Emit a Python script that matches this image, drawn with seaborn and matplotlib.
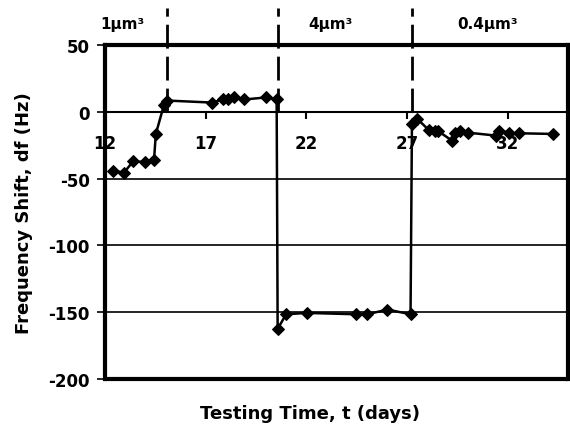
import matplotlib
matplotlib.use('Agg')
import matplotlib.pyplot as plt
import seaborn as sns

# Data
days = [12.40, 12.95, 13.40, 13.98, 14.44, 14.53, 14.94, 15.09, 17.30, 17.88,
        18.12, 18.41, 18.92, 19.99, 20.53, 20.58, 21.00, 22.02, 24.46, 25.04,
        26.03, 27.18, 27.25, 27.50, 28.08, 28.41, 28.56, 29.24, 29.40, 29.65,
        30.01, 31.40, 31.56, 32.06, 32.55, 34.26]
shift = [-44, -45.5, -37, -37.5, -36, -16.5, 5.5, 8.5, 7, 9.3,
         9.3, 10.8, 9.3, 10.8, 9.5, -162.5, -151.5, -150.5, -151.5, -151.5,
         -148, -151.5, -9, -5, -13.5, -14.5, -14.5, -21.5, -15.5, -14.5,
         -15.5, -17.7, -14, -15.5, -16, -16.5]

change_days = [15.1, 20.6, 27.25]
sizes = ['1\u00b5m\u00b3', '4\u00b5m\u00b3', '0.4\u00b5m\u00b3']
size_label_x = [12.85, 23.2, 31.0]
x_ticks = [12, 17, 22, 27, 32]
y_ticks = [50, 0, -50, -100, -150, -200]

sns.set_style('white')
plt.rcParams['font.family'] = ['DejaVu Sans']
plt.rcParams['font.weight'] = 'bold'
plt.rcParams['axes.unicode_minus'] = False
for key in ['text.color', 'axes.labelcolor', 'xtick.color', 'ytick.color']:
    plt.rcParams[key] = 'black'

fig = plt.figure(figsize=(5.7, 4.27), dpi=100)
ax = fig.add_axes([0.184, 0.110, 0.8125, 0.782])

# horizontal grid
ax.set_yticks(y_ticks)
ax.yaxis.grid(True, color='k', lw=1.2)
ax.set_axisbelow(True)

# data line
sns.lineplot(x=days, y=shift, color='k', lw=1.8, marker='D', markersize=6.5,
             markeredgecolor='k', sort=False, estimator=None, ax=ax, zorder=3)

# dashed markers where particle size changes
for d in change_days:
    ax.axvline(d, ymin=0.8, ymax=1.112, color='k', lw=2,
               linestyle=(0, (8.6, 2.9)), clip_on=False)

for x, s in zip(size_label_x, sizes):
    ax.text(x, 66, s, ha='center', va='center', fontsize=11,
            fontweight='bold', clip_on=False)

ax.set_xlim(12, 35)
ax.set_ylim(-200, 50)
ax.set_xticks(x_ticks)

# frame: bottom spine becomes the x axis at y=0
for side in ['left', 'top', 'right']:
    ax.spines[side].set_linewidth(3)
    ax.spines[side].set_color('k')
ax.spines['bottom'].set_position(('data', 0))
ax.spines['bottom'].set_linewidth(1.5)
ax.spines['bottom'].set_color('k')
ax.axhline(-200, color='k', lw=3, clip_on=False)

ax.tick_params(axis='x', direction='out', length=5, width=1.5, pad=11,
               labelsize=12, bottom=True, colors='k')
ax.tick_params(axis='y', direction='out', length=6, width=1.2, pad=5,
               labelsize=12, left=True, colors='k')

ax.set_xlabel('Testing Time, t (days)', fontsize=13, fontweight='bold')
ax.set_ylabel('Frequency Shift, df (Hz)', fontsize=13, fontweight='bold')
ax.xaxis.set_label_coords(0.443, -0.075)
ax.yaxis.set_label_coords(-0.156, 0.5)

fig.savefig('out.png', dpi=100)
